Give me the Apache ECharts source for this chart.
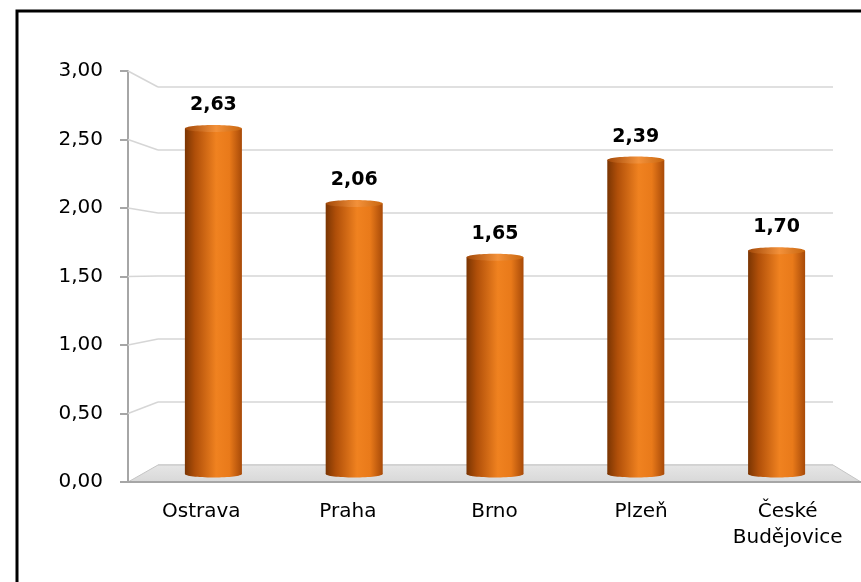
<!DOCTYPE html>
<html>
<head>
<meta charset="utf-8">
<script src="https://cdn.jsdelivr.net/npm/echarts@6/dist/echarts.min.js"></script>
<style>html,body{margin:0;padding:0;background:#fff}#main{width:861px;height:582px}</style>
</head>
<body>
<div id="main"></div>
<script>
var cities = ['Ostrava', 'Praha', 'Brno', 'Plzeň', 'České\nBudějovice'];
var values = [2.63, 2.06, 1.65, 2.39, 1.70];
var yTicks = [0.5, 1, 1.5, 2, 2.5, 3];

(function () {
    var chart = echarts.init(document.getElementById('main'));
    var font = "'DejaVu Sans', sans-serif";
    var fmt = function (v) { return v.toFixed(2).replace('.', ','); };

    // planes of the fake 3d box: front (axes), middle (bars), back (gridlines)
    var front = {left: 128, right: 0, top: 71, bottom: 100};
    var mid = {left: 143, right: 14, top: 80, bottom: 108};
    var back = {left: 158, right: 28, top: 87, bottom: 117};

    var bodyGrad = new echarts.graphic.LinearGradient(0, 0, 1, 0, [
        {offset: 0, color: '#7a3503'},
        {offset: 0.18, color: '#b04f09'},
        {offset: 0.55, color: '#f08220'},
        {offset: 0.78, color: '#e97a1a'},
        {offset: 1, color: '#a84a08'}
    ]);
    var capGrad = new echarts.graphic.LinearGradient(0, 0, 1, 0, [
        {offset: 0, color: '#a24808'},
        {offset: 0.55, color: '#f3913a'},
        {offset: 1, color: '#c8660f'}
    ]);

    function cylinder(params, api) {
        var top = api.coord([api.value(0), api.value(1)]);
        var base = api.coord([api.value(0), 0]);
        var w = api.size([1, 0])[0] * 0.405;
        var rx = w / 2, ry = 3.5;
        return {
            type: 'group',
            children: [
                {type: 'ellipse', shape: {cx: top[0], cy: base[1], rx: rx, ry: ry}, style: {fill: bodyGrad}},
                {type: 'rect', shape: {x: top[0] - rx, y: top[1], width: w, height: base[1] - top[1]}, style: {fill: bodyGrad}},
                {type: 'ellipse', shape: {cx: top[0], cy: top[1], rx: rx, ry: ry}, style: {fill: capGrad}},
                {type: 'text', x: top[0], y: top[1] - 12, style: {
                    text: fmt(api.value(1)), fontFamily: font, fontWeight: 'bold', fontSize: 19,
                    fill: '#000', align: 'center', verticalAlign: 'bottom',
                    backgroundColor: '#fff', padding: [2, 8]
                }}
            ]
        };
    }

    var option = {
        animation: false,
        grid: [
            {left: front.left, right: front.right, top: front.top, bottom: front.bottom},
            {left: mid.left, right: mid.right, top: mid.top, bottom: mid.bottom},
            {left: back.left, right: back.right, top: back.top, bottom: back.bottom}
        ],
        xAxis: [
            {
                gridIndex: 0, type: 'category', data: cities, z: 3,
                axisLine: {lineStyle: {color: '#a6a6a6', width: 2}},
                axisTick: {length: 6, lineStyle: {color: '#a6a6a6', width: 2}},
                axisLabel: {color: '#000', fontFamily: font, fontSize: 20, margin: 17, lineHeight: 26, interval: 0}
            },
            {gridIndex: 1, type: 'category', data: cities, show: false},
            {gridIndex: 2, type: 'category', data: cities, show: false}
        ],
        yAxis: [
            {
                gridIndex: 0, type: 'value', min: 0, max: 3, interval: 0.5,
                axisLine: {show: true, lineStyle: {color: '#a6a6a6', width: 2}},
                axisTick: {show: true, length: 8, lineStyle: {color: '#a6a6a6', width: 2}},
                splitLine: {show: false},
                axisLabel: {color: '#000', fontFamily: font, fontSize: 20, margin: 25, formatter: fmt}
            },
            {gridIndex: 1, type: 'value', min: 0, max: 3, interval: 0.5, show: false, splitLine: {show: false}},
            {
                gridIndex: 2, type: 'value', min: 0, max: 3, interval: 0.5,
                axisLine: {show: false}, axisTick: {show: false}, axisLabel: {show: false},
                splitLine: {lineStyle: {color: '#d6d6d6', width: 1.5}}
            }
        ],
        series: [{
            type: 'custom', xAxisIndex: 1, yAxisIndex: 1, z: 5, clip: false,
            renderItem: cylinder,
            data: values.map(function (v, i) { return [i, v]; })
        }]
    };
    chart.setOption(option);

    // floor and the slanted links from front ticks to back gridlines
    var W = 861;
    var graphics = [{
        type: 'rect', z: 10, silent: true,
        shape: {x: 17, y: 11, width: 900, height: 620},
        style: {fill: null, stroke: '#000', lineWidth: 3}
    }];
    yTicks.forEach(function (v) {
        var yf = chart.convertToPixel({yAxisIndex: 0}, v);
        var yb = chart.convertToPixel({yAxisIndex: 2}, v);
        graphics.push({
            type: 'polyline', z: 1, silent: true,
            shape: {points: [[front.left, yf], [back.left, yb]]},
            style: {stroke: '#d6d6d6', lineWidth: 1.5}
        });
    });
    var f0 = chart.convertToPixel({yAxisIndex: 0}, 0);
    var b0 = chart.convertToPixel({yAxisIndex: 2}, 0);
    graphics.push({
        type: 'polygon', z: 1, silent: true,
        shape: {points: [[front.left, f0], [back.left, b0], [W - back.right, b0], [W - front.right, f0]]},
        style: {
            fill: new echarts.graphic.LinearGradient(0, 0, 0, 1, [
                {offset: 0, color: '#e6e6e6'}, {offset: 1, color: '#d8d8d8'}
            ]),
            stroke: '#c4c4c4', lineWidth: 1
        }
    });
    chart.setOption({graphic: graphics});
})();
</script>
</body>
</html>
